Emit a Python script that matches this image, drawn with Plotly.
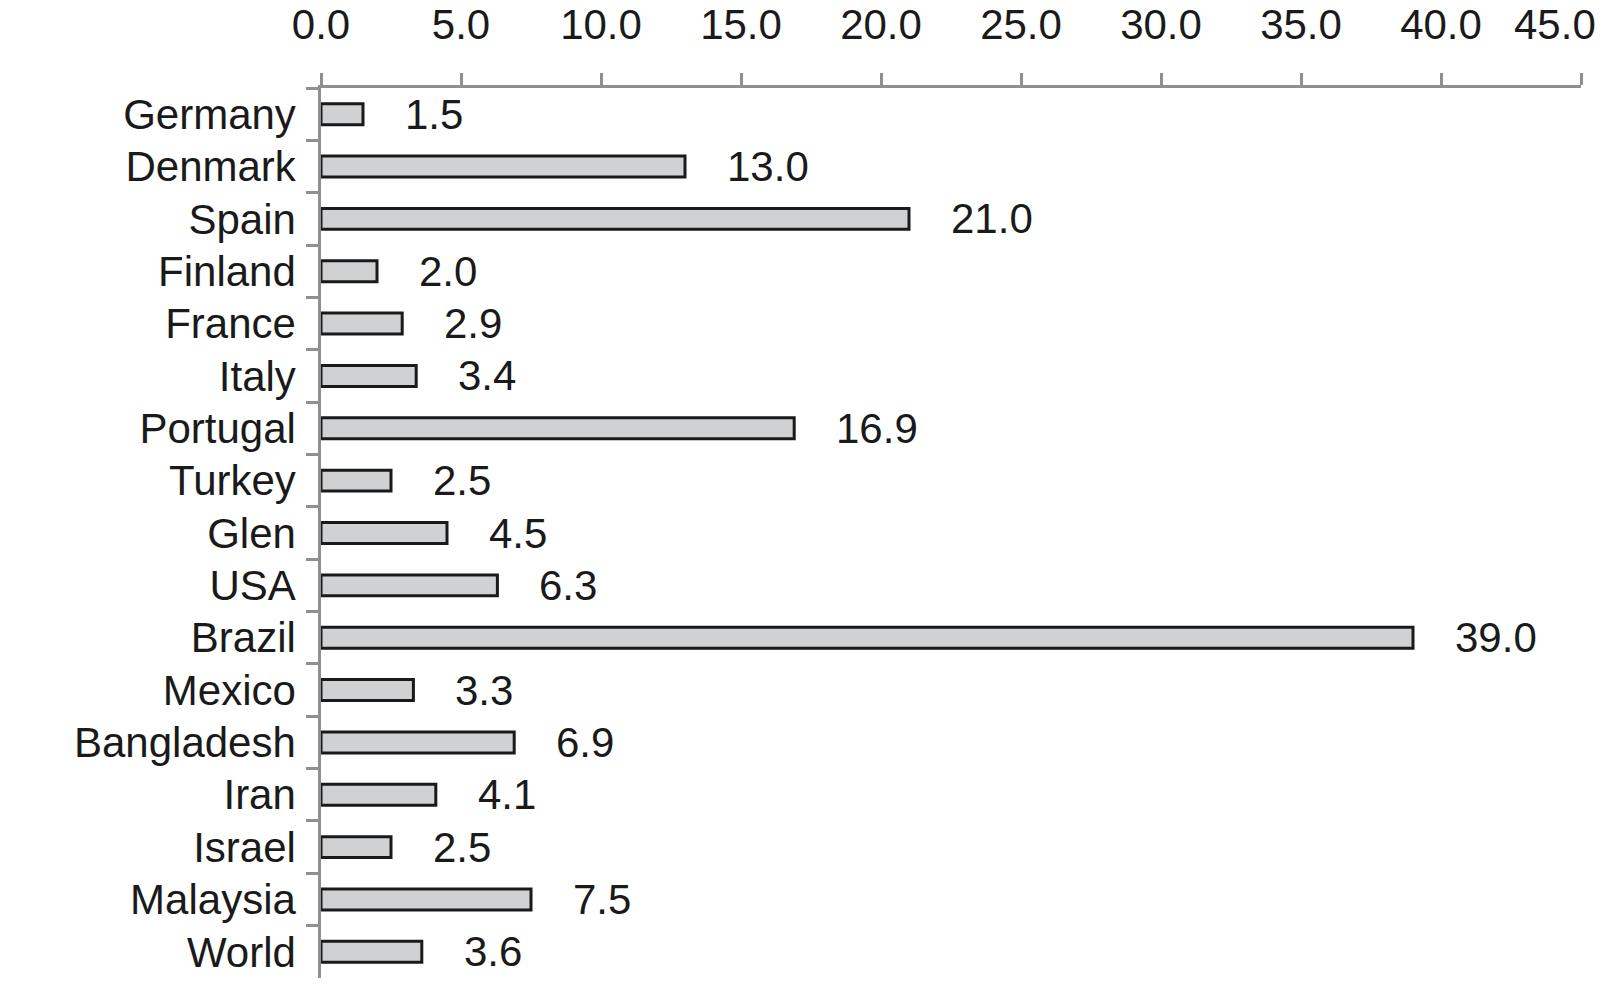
import plotly.graph_objects as go

countries = ["Germany", "Denmark", "Spain", "Finland", "France", "Italy", "Portugal",
             "Turkey", "Glen", "USA", "Brazil", "Mexico", "Bangladesh", "Iran",
             "Israel", "Malaysia", "World"]
values = [1.5, 13.0, 21.0, 2.0, 2.9, 3.4, 16.9, 2.5, 4.5, 6.3, 39.0, 3.3, 6.9, 4.1,
          2.5, 7.5, 3.6]
xticks = [0, 5, 10, 15, 20, 25, 30, 35, 40, 45]
xticklabels = ["0.0", "5.0", "10.0", "15.0", "20.0", "25.0", "30.0", "35.0", "40.0",
               "45.0"]

FONT = "Liberation Sans, Arial, Helvetica, sans-serif"
TXT = "#1a1a1a"
AX = "#8f8f8f"
FS = 42

fig = go.Figure()
fig.add_trace(go.Bar(
    x=values, y=countries, orientation="h", width=0.4,
    marker=dict(color="#cfd1d2", line=dict(color="#1a1a1a", width=3)),
    hoverinfo="skip",
))

for c, v in zip(countries, values):
    fig.add_annotation(x=v, y=c, text=f"{v:.1f}", showarrow=False,
                       xanchor="left", yanchor="middle", xshift=40, yshift=0,
                       font=dict(family=FONT, size=FS, color=TXT))

# last tick label drawn right-aligned so it stays inside the page, as in the original
fig.add_annotation(x=xticks[-1], xref="x", y=1, yref="paper", text=xticklabels[-1],
                   showarrow=False, xanchor="right", yanchor="middle",
                   xshift=17, yshift=64,
                   font=dict(family=FONT, size=FS, color=TXT))

fig.update_layout(
    template="none",
    width=1603, height=993,
    margin=dict(l=321, r=22, t=88, b=15, autoexpand=False),
    paper_bgcolor="white", plot_bgcolor="white",
    showlegend=False,
    font=dict(family=FONT, size=FS, color=TXT),
    xaxis=dict(side="top", range=[0, 45], tickvals=xticks,
               ticktext=xticklabels[:-1] + [""],
               automargin=False,
               showgrid=False, zeroline=False, showline=True,
               linecolor=AX, linewidth=2.5, ticks="outside", ticklen=12,
               tickcolor=AX, tickwidth=2.5, ticklabelstandoff=17,
               tickfont=dict(family=FONT, size=FS, color=TXT)),
    yaxis=dict(autorange="reversed", showgrid=False, zeroline=False,
               automargin=False,
               showline=True, linecolor=AX, linewidth=2.5, ticks="outside",
               ticklen=12, tickcolor=AX, tickwidth=2.5, tickson="boundaries",
               ticklabelstandoff=14,
               tickfont=dict(family=FONT, size=FS, color=TXT)),
)

fig.write_html("out.html", config={"displayModeBar": False},
               post_script="document.body.style.margin='0';")
